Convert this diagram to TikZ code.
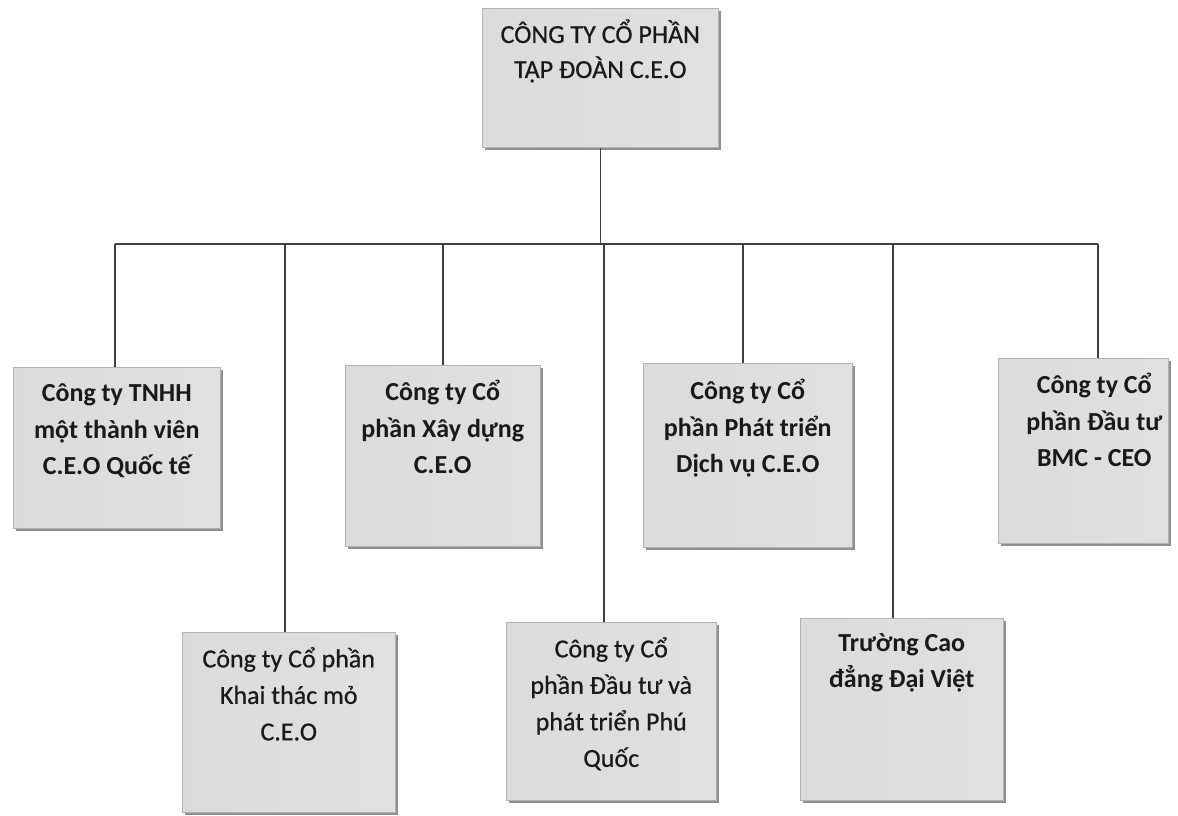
\documentclass[tikz,border=0pt]{standalone}
\usepackage{fontspec}
\setmainfont{Carlito}
\newfontfamily\scanfont{Carlito}[FakeBold=0.6]
\usetikzlibrary{calc, positioning, shadows}

\tikzset{
  unit/.style={draw=black!30, line width=0.5pt, inner sep=0pt, anchor=north west,
               left color=black!14, middle color=black!3, right color=black!12,
               drop shadow={shadow xshift=3pt, shadow yshift=-3pt, fill=black!55, opacity=.8}},
  unittext/.style={align=center, inner sep=0pt, anchor=north, text=black!90,
                   font=\scanfont\fontsize{26}{36.5}\selectfont},
  boldtext/.style={unittext, font=\bfseries\fontsize{26}{36.5}\selectfont},
  link/.style={draw=black!75, line width=1.4pt}
}

\begin{document}
\begin{tikzpicture}[x=1pt, y=-1pt]
\useasboundingbox (0,0) rectangle (1178,815);

% boxes at pixel positions of the chart
\node [unit, minimum width=236pt, minimum height=139pt] (ceo) at (482,8)   {};
\node [unit, minimum width=207pt, minimum height=161pt] (b1)  at (13,367)  {};
\node [unit, minimum width=213pt, minimum height=180pt] (b2)  at (182,632) {};
\node [unit, minimum width=195pt, minimum height=181pt] (b3)  at (345,365) {};
\node [unit, minimum width=210pt, minimum height=178pt] (b4)  at (506,622) {};
\node [unit, minimum width=209pt, minimum height=184pt] (b5)  at (643,363) {};
\node [unit, minimum width=203pt, minimum height=182pt] (b6)  at (800,618) {};
\node [unit, minimum width=170pt, minimum height=185pt] (b7)  at (998,358) {};

% texts hang from the top edge of each box
\node [unittext, font=\scanfont\fontsize{26}{35}\selectfont, below=11pt of ceo.north] (tceo)
      {CÔNG TY CỔ PHẦN\\TẬP ĐOÀN C.E.O};
\node [boldtext, below=17pt of b1.north] (t1)
      {Công ty TNHH\\một thành viên\\C.E.O Quốc tế};
\node [unittext, below=15pt of b2.north] (t2)
      {Công ty Cổ phần\\Khai thác mỏ\\C.E.O};
\node [boldtext, below=15pt of b3.north] (t3)
      {Công ty Cổ\\phần Xây dựng\\C.E.O};
\node [unittext, below=15pt of b4.north] (t4)
      {Công ty Cổ\\phần Đầu tư và\\phát triển Phú\\Quốc};
\node [boldtext, below=16pt of b5.north] (t5)
      {Công ty Cổ\\phần Phát triển\\Dịch vụ C.E.O};
\node [boldtext, below=15pt of b6.north] (t6)
      {Trường Cao\\đẳng Đại Việt};
\node [boldtext, below=15pt of b7.north, xshift=11pt] (t7)
      {Công ty Cổ\\phần Đầu tư\\BMC - CEO};

% bus and drops
\foreach \i/\x in {1/115, 2/285, 3/443, 4/604, 5/743, 6/893, 7/1098}
  \coordinate (j\i) at (\x,244);
\draw [link] (ceo.south) -- (ceo.south |- j1);
\draw [link] (j1) -- (j7);
\foreach \i in {1,...,7}
  \draw [link] (j\i) -- (j\i |- b\i.north);

\end{tikzpicture}
\end{document}
